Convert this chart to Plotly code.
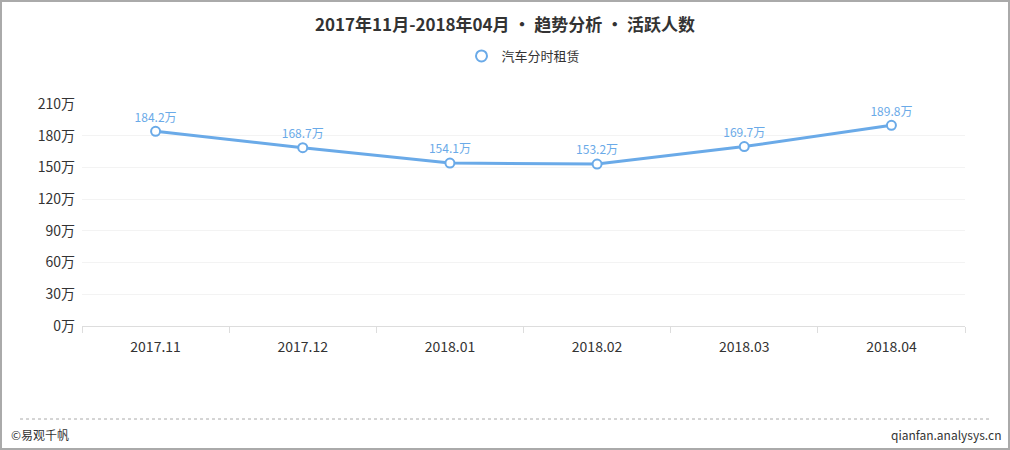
import plotly.graph_objects as go

months = ["2017.11", "2017.12", "2018.01", "2018.02", "2018.03", "2018.04"]
active_users = [184.2, 168.7, 154.1, 153.2, 169.7, 189.8]
y_ticks = [0, 30, 60, 90, 120, 150, 180, 210]
series_name = "汽车分时租赁"

font = "Noto Sans CJK SC"
blue = "#6aaae8"

fig = go.Figure()
fig.add_trace(go.Scatter(
    x=months, y=active_users, name=series_name, mode="lines+markers+text",
    line=dict(color=blue, width=3),
    marker=dict(size=9, color="white", line=dict(color=blue, width=2)),
    text=[f"{v}万" for v in active_users], textposition="top center",
    textfont=dict(color=blue, size=12, family=font),
    cliponaxis=False, showlegend=False,
))
# legend entry: circle only
fig.add_trace(go.Scatter(
    x=[None], y=[None], name=series_name, mode="markers",
    marker=dict(size=11, color="white", line=dict(color=blue, width=2)),
))

fig.update_layout(
    width=1010, height=450,
    margin=dict(l=82, r=45, t=104, b=124, autoexpand=False),
    paper_bgcolor="white", plot_bgcolor="white",
    font=dict(family=font, color="#333", size=14),
    title=dict(text="<b>2017年11月-2018年04月 • 趋势分析 • 活跃人数</b>",
               x=0.5, xanchor="center", yref="container", y=1 - 25 / 450, yanchor="middle",
               font=dict(size=17, color="#333")),
    showlegend=True,
    legend=dict(orientation="h", x=0.5, xanchor="center",
                yref="container", y=1 - 56 / 450, yanchor="middle",
                itemwidth=30, font=dict(size=13, color="#333")),
    xaxis=dict(showgrid=False, showline=True, linecolor="#ddd",
               ticks="outside", ticklen=6, tickcolor="#ddd",
               tickmode="array", tickvals=months, ticklabelstandoff=8,
               range=[-0.5, 5.5], tickson="boundaries", fixedrange=True),
    yaxis=dict(range=[0, 210], tickvals=y_ticks,
               ticktext=[f"{t}万" for t in y_ticks],
               showgrid=True, gridcolor="#f3f3f3", zeroline=False,
               showline=False, ticks="", ticklabelstandoff=6),
    shapes=[
        dict(type="line", xref="paper", yref="paper", x0=-62 / 883, x1=1 + 25 / 883,
             y0=-93 / 222, y1=-93 / 222, line=dict(color="#aaa", width=1, dash="3px,3px")),
        dict(type="rect", xref="paper", yref="paper",
             x0=-81 / 883, x1=1 + 44 / 883, y0=-123 / 222, y1=1 + 103 / 222,
             line=dict(color="#aaa", width=2)),
    ],
    annotations=[
        dict(text="©易观千帆", xref="paper", yref="paper", x=-73 / 883, y=-108 / 222,
             xanchor="left", yanchor="middle", showarrow=False,
             font=dict(size=12, color="#333")),
        dict(text="qianfan.analysys.cn", xref="paper", yref="paper", x=1 + 38 / 883, y=-108 / 222,
             xanchor="right", yanchor="middle", showarrow=False,
             font=dict(size=12, color="#333")),
    ],
)

fig.write_html("out.html", config={"displayModeBar": False},
               post_script="document.body.style.margin='0';")
